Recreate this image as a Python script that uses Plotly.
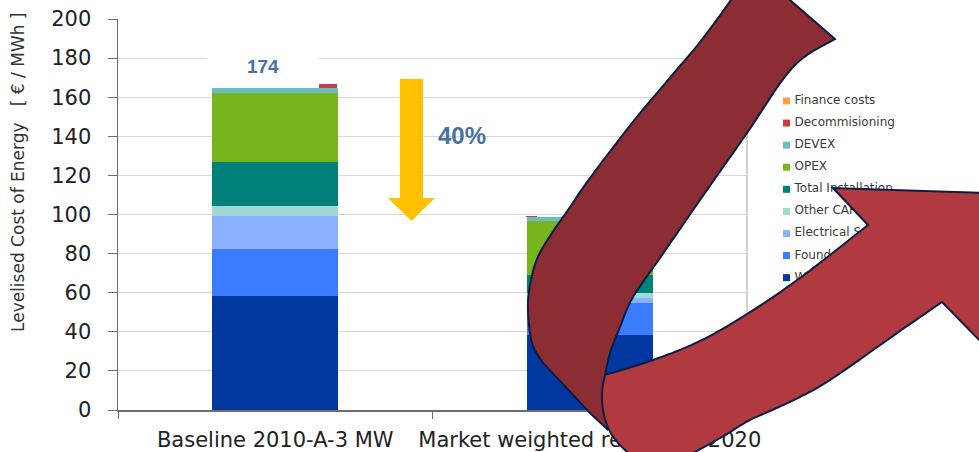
import plotly.graph_objects as go

# ---------------- data ----------------
CATEGORIES = ["Baseline 2010-A-3 MW", "Market weighted reference 2020"]

WIND_TURBINE = [58.3, 38.4]
FOUNDATIONS = [23.9, 16.2]
ELECTRICAL_SYSTEM = [17.0, 2.5]
OTHER_CAPEX = [5.1, 2.9]
TOTAL_INSTALLATION = [22.7, 8.9]
OPEX = [35.4, 27.9]
DEVEX = [2.1, 1.8]
DECOMMISSIONING = [2.2, 0.6]
FINANCE_COSTS = [0.0, 0.0]

SERIES_NAMES = ["Wind Turbine", "Foundations", "Electrical System", "Other CAPEX",
                "Total Installation", "OPEX", "DEVEX", "Decommisioning", "Finance costs"]
SERIES_VALUES = [WIND_TURBINE, FOUNDATIONS, ELECTRICAL_SYSTEM, OTHER_CAPEX,
                 TOTAL_INSTALLATION, OPEX, DEVEX, DECOMMISSIONING, FINANCE_COSTS]
SERIES_COLORS = ["#0038A0", "#3A7BFF", "#8AB0FF", "#A0D8D6", "#00807A",
                 "#78B41E", "#6ABEC0", "#CD3C41", "#F8A043"]

TOTAL_LABEL = "174"
REDUCTION_LABEL = "40%"
Y_TICKS = list(range(0, 201, 20))
Y_TITLE = "Levelised Cost of Energy\u00a0\u00a0\u00a0[ € / MWh ]"

# ---------------- figure geometry (pixels) ----------------
W, H = 979, 452
PX_L, PX_R, PX_T, PX_B = 118, 747, 19, 410


def smooth(pts, n=10):
    P = [pts[0]] + list(pts) + [pts[-1]]
    out = []
    for i in range(1, len(P) - 2):
        p0, p1, p2, p3 = P[i - 1], P[i], P[i + 1], P[i + 2]
        for k in range(n):
            t = k / n
            xy = []
            for d in range(2):
                v = 0.5 * ((2 * p1[d]) + (-p0[d] + p2[d]) * t
                           + (2 * p0[d] - 5 * p1[d] + 4 * p2[d] - p3[d]) * t * t
                           + (-p0[d] + 3 * p1[d] - 3 * p2[d] + p3[d]) * t ** 3)
                xy.append(v)
            out.append(tuple(xy))
    out.append(tuple(pts[-1]))
    return out


def path_of(pts):
    s = "M %.1f,%.1f " % pts[0]
    s += " ".join("L %.1f,%.1f" % p for p in pts[1:])
    return s + " Z"


fig = go.Figure()

# stacked bars
for name, vals, col in zip(SERIES_NAMES, SERIES_VALUES, SERIES_COLORS):
    kw = dict(width=0.4)
    if name == "Decommisioning":
        kw = dict(width=[0.057, 0.035], offset=[0.139, -0.203])
    fig.add_trace(go.Bar(x=CATEGORIES, y=vals, name=name, marker=dict(color=col, line=dict(width=0)),
                         showlegend=False, hoverinfo="skip", xaxis="x", yaxis="y", **kw))

# manual legend (drawn in a full-figure pixel frame so the arrow can cover it)
LEG_X, LEG_TOP, LEG_STEP = 786.5, 101, 22.08
leg_names = SERIES_NAMES[::-1]
leg_cols = SERIES_COLORS[::-1]
leg_y = [LEG_TOP + i * LEG_STEP for i in range(len(leg_names))]
fig.add_trace(go.Scatter(x=[LEG_X] * len(leg_names), y=leg_y, mode="markers",
                         marker=dict(symbol="square", size=7, color=leg_cols, line=dict(width=0)),
                         xaxis="x2", yaxis="y2", showlegend=False, hoverinfo="skip"))
fig.add_trace(go.Scatter(x=[LEG_X + 8] * len(leg_names), y=leg_y, mode="text", text=leg_names,
                         textposition="middle right",
                         textfont=dict(family="DejaVu Sans", size=12, color="#3A3A3A"),
                         xaxis="x2", yaxis="y2", showlegend=False, hoverinfo="skip"))

# ---------------- red curved arrow ----------------
dark_inner = smooth([(835, 39), (793, 67), (747, 133), (700, 200), (660, 258), (633, 297),
                     (620, 327), (610, 353), (605, 375)])
dark_outer = smooth([(543, 363), (532, 343), (528, 310), (530, 285), (537, 259), (550, 236),
                     (568, 210), (585, 185), (605, 158), (636, 118), (668, 80), (700, 42),
                     (731, 0), (753, -32)])
dark_pts = [(753, -32)] + dark_inner + [(607, 405), (607, 429), (590, 413)] + dark_outer
light_upper = smooth([(605, 375), (653, 360), (700, 341), (747, 314), (800, 278), (868, 225)])
light_lower = smooth([(942, 302), (900, 331), (833, 378), (800, 397), (770, 411), (748, 421),
                      (722, 437), (695, 452), (665, 470)])
light_left = smooth([(665, 470), (640, 462), (625, 450), (614, 438), (607, 425), (603, 410),
                     (602, 392), (605, 375)])
light_pts = light_upper + [(833, 188), (1014, 194), (985, 346)] + light_lower + light_left[1:]

OUTLINE = "#0B1D45"
shapes = [
    dict(type="path", xref="x2", yref="y2", path=path_of(dark_pts), fillcolor="#8B2D33",
         line=dict(color=OUTLINE, width=2), layer="above"),
    dict(type="path", xref="x2", yref="y2", path=path_of(light_pts), fillcolor="#B03A40",
         line=dict(color=OUTLINE, width=2), layer="above"),
    # yellow reduction arrow
    dict(type="path", xref="x2", yref="y2",
         path=path_of([(400, 79), (423, 79), (423, 198), (435, 198), (411.5, 221), (388, 198), (400, 198)]),
         fillcolor="#FFC000", line=dict(width=0), layer="above"),
    # right border of plot area
    dict(type="line", xref="x domain", yref="y domain", x0=1, x1=1, y0=0, y1=1,
         line=dict(color="#A6A6A6", width=1), layer="below"),
]

annotations = [
    dict(xref="x2", yref="y2", x=262.5, y=65.5, text=TOTAL_LABEL, showarrow=False,
         font=dict(family="Liberation Sans", size=19, color="#4670A8", weight="bold"),
         bgcolor="white", width=108, height=24, borderpad=1),
    dict(xref="x2", yref="y2", x=462, y=135, text=REDUCTION_LABEL, showarrow=False,
         font=dict(family="Liberation Sans", size=24, color="#4670A8", weight="bold")),
    dict(xref="x2", yref="y2", x=18, y=172, text=Y_TITLE, textangle=-90, showarrow=False,
         font=dict(family="DejaVu Sans", size=17, color="#333333")),
]

fig.update_layout(
    template="none",
    width=W, height=H, autosize=False,
    margin=dict(l=0, r=0, t=0, b=0, autoexpand=False),
    paper_bgcolor="white", plot_bgcolor="rgba(0,0,0,0)",
    barmode="stack", bargap=0.6,
    font=dict(family="DejaVu Sans", color="#222222"),
    showlegend=False,
    xaxis=dict(domain=[PX_L / W, PX_R / W], anchor="y", type="category", range=[-0.5, 1.5],
               showgrid=False, showline=True, linecolor="#6E6E6E", linewidth=1.5,
               ticks="outside", tickson="boundaries", ticklen=7, tickcolor="#6E6E6E",
               tickangle=0, automargin=False,
               tickfont=dict(size=21, color="#222222"), ticklabelstandoff=10, zeroline=False),
    yaxis=dict(domain=[1 - PX_B / H, 1 - PX_T / H], anchor="x", range=[0, 200],
               tickvals=Y_TICKS, showgrid=True, gridcolor="#D9D9D9", gridwidth=1,
               showline=True, linecolor="#6E6E6E", linewidth=1.5, ticks="outside", ticklen=9,
               tickcolor="#6E6E6E", tickfont=dict(size=21, color="#222222"), automargin=False,
               ticklabelstandoff=12, zeroline=False),
    xaxis2=dict(domain=[0, 1], anchor="y2", range=[0, W], visible=False, fixedrange=True,
                automargin=False),
    yaxis2=dict(domain=[0, 1], anchor="x2", range=[H, 0], visible=False, fixedrange=True,
                automargin=False),
    shapes=shapes,
    annotations=annotations,
)

fig.write_html("out.html", config={"displayModeBar": False, "staticPlot": True},
               post_script="document.body.style.margin='0';document.body.style.overflow='hidden';")
